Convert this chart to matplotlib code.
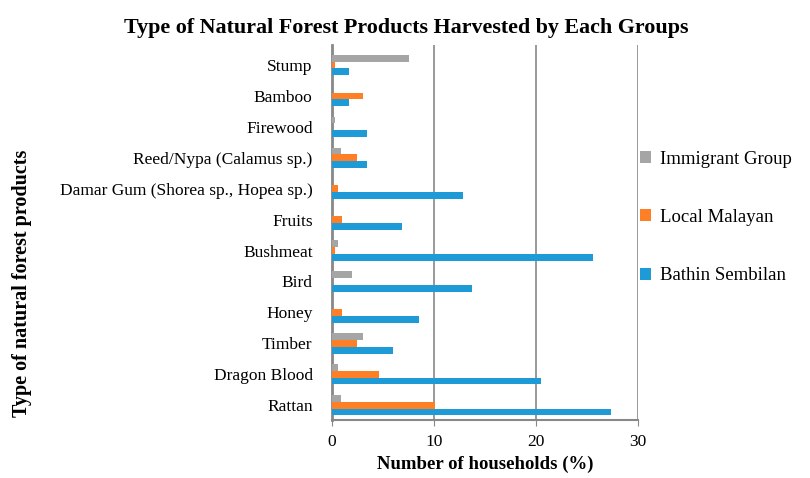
import matplotlib.pyplot as plt
import numpy as np

plt.rcParams['font.family'] = ['Liberation Serif', 'DejaVu Serif']

# data (bottom to top)
products = ['Rattan', 'Dragon Blood', 'Timber', 'Honey', 'Bird', 'Bushmeat', 'Fruits',
            'Damar Gum (Shorea sp., Hopea sp.)', 'Reed/Nypa (Calamus sp.)', 'Firewood',
            'Bamboo', 'Stump']
immigrant = [0.85, 0.55, 3.06, 0, 1.95, 0.55, 0, 0, 0.85, 0.26, 0, 7.5]
local_malayan = [10.06, 4.6, 2.44, 0.95, 0, 0.3, 0.95, 0.6, 2.44, 0, 3.06, 0.3]
bathin = [27.3, 20.5, 6.0, 8.5, 13.7, 25.6, 6.8, 12.8, 3.4, 3.4, 1.7, 1.7]
xticks = [0, 10, 20, 30]

fig = plt.figure(figsize=(8.1, 4.78), dpi=100)
ax = fig.add_axes([0.41, 0.121, 0.378, 0.785])

y = np.arange(len(products))
h = 0.22
ax.barh(y + h, immigrant, height=h, color='#A5A5A5', label='Immigrant Group', zorder=3)
ax.barh(y, local_malayan, height=h, color='#FF7F27', label='Local Malayan', zorder=3)
ax.barh(y - h, bathin, height=h, color='#1E9BD7', label='Bathin Sembilan', zorder=3)

ax.set_xlim(0, 30)
ax.set_ylim(-0.485, 11.65)
ax.set_xticks(xticks)
ax.set_yticks(y)
ax.set_yticklabels(products, fontsize=12.5)
ax.tick_params(axis='x', labelsize=12.5, length=4, color='#888888', pad=6)
ax.tick_params(axis='y', length=0, pad=14)
ax.grid(axis='x', color='#888888', linewidth=1.2, zorder=0)
for s in ['top', 'right']:
    ax.spines[s].set_visible(False)
ax.spines['left'].set_color('#888888')
ax.spines['left'].set_linewidth(2)
ax.spines['bottom'].set_color('#888888')
ax.spines['bottom'].set_linewidth(1.5)

ax.set_xlabel('Number of households (%)', fontsize=13.5, fontweight='bold', labelpad=4)
ax.set_ylabel('Type of natural forest products', fontsize=14.5, fontweight='bold')
ax.yaxis.set_label_coords(-0.98, 0.365)
fig.suptitle('Type of Natural Forest Products Harvested by Each Groups',
             fontsize=15.8, fontweight='bold', x=0.502, y=0.962)

ax.legend(loc='center left', bbox_to_anchor=(0.95, 0.54), frameon=False, fontsize=13.5,
          handlelength=0.6, handleheight=0.6, labelspacing=2.2, handletextpad=0.5)

fig.savefig('out.png', dpi=100)
